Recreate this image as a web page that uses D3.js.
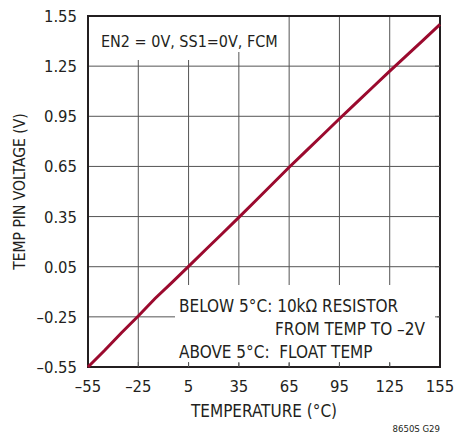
<!DOCTYPE html>
<html>
<head>
<meta charset="utf-8">
<script src="https://cdn.jsdelivr.net/npm/d3@7"></script>
<style>
  body { margin: 0; background: #fff; }
  text { font-family: "Liberation Sans Narrow", "DejaVu Sans Condensed", "Roboto", sans-serif; fill: #231f20; }
</style>
</head>
<body>
<div id="chart"></div>
<script>
// temperature (°C) vs TEMP pin voltage (V)
const temps = [-55, -45, -35, -25, -15, -5, 5, 15, 25, 35, 45, 55, 65, 75, 85, 95, 105, 115, 125, 135, 145, 155];
const volts = [-0.55, -0.45, -0.345, -0.245, -0.14, -0.045, 0.052, 0.15, 0.247, 0.345, 0.445, 0.545, 0.645, 0.742, 0.838, 0.935, 1.03, 1.125, 1.22, 1.313, 1.406, 1.50];

const xTicks = [-55, -25, 5, 35, 65, 95, 125, 155];
const yTicks = [-0.55, -0.25, 0.05, 0.35, 0.65, 0.95, 1.25, 1.55];

const yTickLabels = ["\u20130.55", "\u20130.25", "0.05", "0.35", "0.65", "0.95", "1.25", "1.55"];
const xTickLabels = ["\u201355", "\u201325", "5", "35", "65", "95", "125", "155"];

const width = 454, height = 434;
const margin = { left: 88, right: 14, top: 16, bottom: 67 };

const svg = d3.select("#chart").append("svg")
  .attr("width", width)
  .attr("height", height);

const x = d3.scaleLinear().domain([-55, 155]).range([margin.left, width - margin.right]);
const y = d3.scaleLinear().domain([-0.55, 1.55]).range([height - margin.bottom, margin.top]);

// grid
svg.append("g")
  .selectAll("line.v")
  .data(xTicks.slice(1, -1))
  .enter().append("line")
  .attr("x1", d => x(d)).attr("x2", d => x(d))
  .attr("y1", y(1.55)).attr("y2", y(-0.55))
  .style("stroke", "#555").style("stroke-width", 1);

svg.append("g")
  .selectAll("line.h")
  .data(yTicks.slice(1, -1))
  .enter().append("line")
  .attr("x1", x(-55)).attr("x2", x(155))
  .attr("y1", d => y(d)).attr("y2", d => y(d))
  .style("stroke", "#555").style("stroke-width", 1);

// white boxes behind the notes
svg.append("rect")
  .attr("x", x(-55) + 1).attr("y", y(1.55) + 1)
  .attr("width", 146).attr("height", 43)
  .style("fill", "#fff");
svg.append("rect")
  .attr("x", x(-55) + 1).attr("y", y(1.55) + 1)
  .attr("width", 190).attr("height", 35)
  .style("fill", "#fff");
svg.append("rect")
  .attr("x", 175).attr("y", 285)
  .attr("width", x(155) - 178).attr("height", 78)
  .style("fill", "#fff");

// frame
svg.append("rect")
  .attr("x", x(-55)).attr("y", y(1.55))
  .attr("width", x(155) - x(-55)).attr("height", y(-0.55) - y(1.55))
  .style("fill", "none").style("stroke", "#231f20").style("stroke-width", 2);

// small edge ticks
svg.append("g").selectAll("line")
  .data(xTicks.slice(1, -1))
  .enter().append("line")
  .attr("x1", d => x(d)).attr("x2", d => x(d))
  .attr("y1", y(-0.55)).attr("y2", y(-0.55) - 5)
  .style("stroke", "#555");
svg.append("g").selectAll("line")
  .data(yTicks.slice(1, -1))
  .enter().append("line")
  .attr("x1", x(155)).attr("x2", x(155) - 5)
  .attr("y1", d => y(d)).attr("y2", d => y(d))
  .style("stroke", "#555");

// curve
const line = d3.line().x((d, i) => x(temps[i])).y(d => y(d));
svg.append("path")
  .datum(volts)
  .attr("d", line)
  .style("fill", "none")
  .style("stroke", "#9b0a2e")
  .style("stroke-width", 3);

// tick labels
svg.append("g").selectAll("text")
  .data(yTicks)
  .enter().append("text")
  .attr("x", x(-55) - 11)
  .attr("y", d => y(d))
  .attr("dy", "0.36em")
  .attr("text-anchor", "end")
  .style("font-size", "16.5px")
  .text((d, i) => yTickLabels[i]);

svg.append("g").selectAll("text")
  .data(xTicks)
  .enter().append("text")
  .attr("x", d => x(d))
  .attr("y", y(-0.55) + 25)
  .attr("text-anchor", "middle")
  .style("font-size", "16.5px")
  .text((d, i) => xTickLabels[i]);

// axis titles
svg.append("text")
  .attr("x", (x(-55) + x(155)) / 2)
  .attr("y", 417)
  .attr("text-anchor", "middle")
  .style("font-size", "17px")
  .text("TEMPERATURE (\u00b0C)");

svg.append("text")
  .attr("transform", `translate(25,${(y(-0.55) + y(1.55)) / 2}) rotate(-90)`)
  .attr("text-anchor", "middle")
  .style("font-size", "15.5px")
  .text("TEMP PIN VOLTAGE (V)");

svg.append("text")
  .attr("x", 440)
  .attr("y", 432)
  .attr("text-anchor", "end")
  .style("font-size", "9.5px")
  .text("8650S G29");

// notes
svg.append("text")
  .attr("x", 101).attr("y", 47)
  .style("font-size", "16px")
  .text("EN2 = 0V, SS1=0V, FCM");

const notes = [
  { x: 179, y: 312, s: "BELOW 5\u00b0C: 10k\u03a9 RESISTOR" },
  { x: 275, y: 335, s: "FROM TEMP TO \u20132V" },
  { x: 179, y: 358, s: "ABOVE 5\u00b0C:  FLOAT TEMP" }
];
svg.append("g").selectAll("text")
  .data(notes)
  .enter().append("text")
  .attr("x", d => d.x).attr("y", d => d.y)
  .attr("xml:space", "preserve")
  .style("white-space", "pre")
  .style("font-size", "17px")
  .text(d => d.s);
</script>
</body>
</html>
